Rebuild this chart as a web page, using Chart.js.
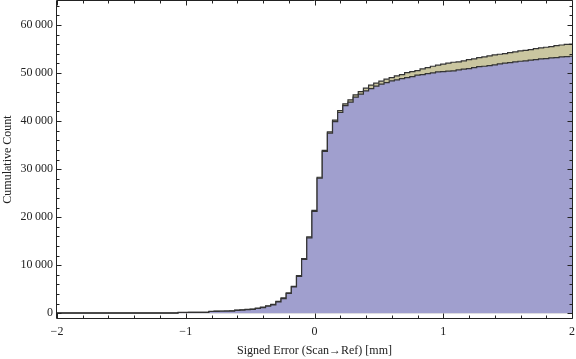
<!DOCTYPE html>
<html>
<head>
<meta charset="utf-8">
<script src="https://cdn.jsdelivr.net/npm/chart.js@4"></script>
<style>
html,body{margin:0;padding:0;background:#fff}
</style>
</head>
<body>
<canvas id="c" width="576" height="359"></canvas>
<script>
// bin centres (mm), 0.04 wide bins
const binCenters=[-2,-1.96,-1.92,-1.88,-1.84,-1.8,-1.76,-1.72,-1.68,-1.64,
-1.6,-1.56,-1.52,-1.48,-1.44,-1.4,-1.36,-1.32,-1.28,-1.24,
-1.2,-1.16,-1.12,-1.08,-1.04,-1,-0.96,-0.92,-0.88,-0.84,
-0.8,-0.76,-0.72,-0.68,-0.64,-0.6,-0.56,-0.52,-0.48,-0.44,
-0.4,-0.36,-0.32,-0.28,-0.24,-0.2,-0.16,-0.12,-0.08,-0.04,
0,0.04,0.08,0.12,0.16,0.2,0.24,0.28,0.32,0.36,
0.4,0.44,0.48,0.52,0.56,0.6,0.64,0.68,0.72,0.76,
0.8,0.84,0.88,0.92,0.96,1,1.04,1.08,1.12,1.16,
1.2,1.24,1.28,1.32,1.36,1.4,1.44,1.48,1.52,1.56,
1.6,1.64,1.68,1.72,1.76,1.8,1.84,1.88,1.92,1.96,
2]

// cumulative counts, purple series (front)
const countsA=[0,0,0,0,0,0,0,0,0,0,
0,0,0,0,0,0,0,0,0,0,
0,0,0,0,150,150,160,160,170,180,
350,400,410,420,450,600,640,760,800,975,
1180,1450,1720,2350,3050,4100,5460,7680,11200,15700,
21200,28100,33700,37500,39900,41800,43200,43950,44990,45610,
46290,46770,47270,47690,48020,48370,48580,48850,49060,49260,
49560,49680,49890,50030,50240,50300,50390,50450,50650,50800,
50920,51130,51340,51420,51550,51690,51900,52050,52170,52320,
52460,52520,52670,52790,52940,53000,53150,53210,53350,53420,
53500]

// cumulative counts, khaki series (behind)
const countsB=[60,60,60,60,60,60,60,60,60,60,
60,60,60,60,60,60,60,60,60,60,
60,60,60,60,170,170,180,180,190,200,
390,440,450,460,490,650,700,820,870,1050,
1260,1540,1820,2460,3170,4230,5600,7830,11360,15870,
21390,28300,33920,37750,40200,42200,43600,44430,45460,46150,
46860,47480,47890,48310,48720,49060,49410,49680,50100,50300,
50510,50860,51130,51420,51630,51840,52050,52250,52320,52520,
52790,52940,53210,53350,53560,53770,53910,54040,54250,54390,
54600,54740,54870,55080,55220,55370,55490,55700,55840,55990,
56050]

const xTicks=[-2,-1,0,1,2]
const yTicks=[0,10000,20000,30000,40000,50000,60000]

const serif="'Liberation Serif','Times New Roman',serif"
const ink="#222"

function fmtX(v){return v<0?"\u2212"+Math.abs(v):String(v)}
function fmtY(v){
  const s=String(v)
  return s.length>3?s.slice(0,-3)+"\u2009"+s.slice(-3):s
}

// Mathematica style frame with inward ticks on all four sides
const frame={
  id:"frame",
  afterDraw(ch){
    const {ctx,chartArea:a,scales}=ch
    const xs=scales.x,ys=scales.y
    const L=a.left-0.5,R=a.right+0.5,T=a.top-0.5,B=a.bottom+0.5
    ctx.save()
    ctx.strokeStyle=ink
    ctx.lineWidth=1
    ctx.beginPath()
    ctx.rect(L,T,R-L,B-T)
    ctx.stroke()
    ctx.beginPath()
    for(let i=0;i<=20;i++){
      const v=-2+i*0.2
      const p=Math.round(xs.getPixelForValue(v))+0.5
      const len=i%5===0?5:3
      ctx.moveTo(p,B);ctx.lineTo(p,B-len)
      ctx.moveTo(p,T);ctx.lineTo(p,T+len)
    }
    for(let v=0;v<=64000;v+=2000){
      const p=Math.round(ys.getPixelForValue(v))+0.5
      const len=v%10000===0?5:3
      ctx.moveTo(L,p);ctx.lineTo(L+len,p)
      ctx.moveTo(R,p);ctx.lineTo(R-len,p)
    }
    ctx.stroke()
    ctx.restore()
  }
}

new Chart(document.getElementById("c"),{
  type:"line",
  data:{datasets:[
    {
      data:binCenters.map((x,i)=>({x,y:countsA[i]})),
      stepped:"middle",fill:"origin",
      backgroundColor:"#a09fce",borderColor:"#333",borderWidth:1.2,
      pointRadius:0
    },
    {
      data:binCenters.map((x,i)=>({x,y:countsB[i]})),
      stepped:"middle",fill:"origin",
      backgroundColor:"#cac6a0",borderColor:"#333",borderWidth:1.2,
      pointRadius:0
    }
  ]},
  options:{
    responsive:false,animation:false,devicePixelRatio:1,
    layout:{padding:{top:1,right:4,left:0,bottom:0}},
    plugins:{legend:{display:false},tooltip:{enabled:false}},
    scales:{
      x:{
        type:"linear",min:-2,max:2,
        grid:{display:false,drawTicks:false},border:{display:false},
        afterBuildTicks:s=>{s.ticks=xTicks.map(v=>({value:v}))},
        afterFit:s=>{s.height=41;s.paddingLeft=0;s.paddingRight=0},
        ticks:{callback:fmtX,color:ink,font:{family:serif,size:12},padding:7,maxRotation:0},
        title:{display:true,text:"Signed Error (Scan\u2192Ref) [mm]",color:ink,
          font:{family:serif,size:12},padding:{top:0,bottom:1}}
      },
      y:{
        min:-1000,max:65000,
        grid:{display:false,drawTicks:false},border:{display:false},
        afterBuildTicks:s=>{s.ticks=yTicks.map(v=>({value:v}))},
        afterFit:s=>{s.width=57;s.paddingTop=0;s.paddingBottom=0},
        ticks:{callback:fmtY,color:ink,font:{family:serif,size:12},padding:4},
        title:{display:true,text:"Cumulative Count",color:ink,
          font:{family:serif,size:12},padding:{top:1,bottom:0}}
      }
    }
  },
  plugins:[frame]
})
</script>
</body>
</html>
